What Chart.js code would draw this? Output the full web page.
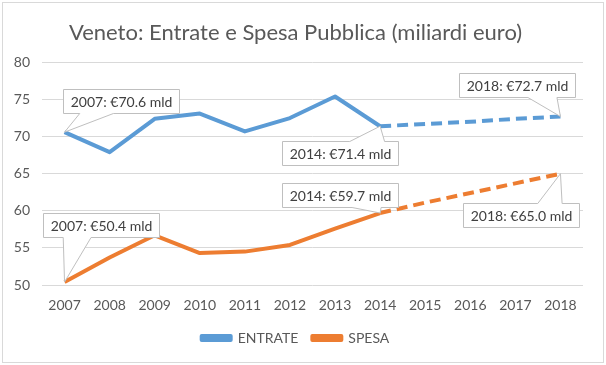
<!DOCTYPE html>
<html>
<head>
<meta charset="utf-8">
<script src="https://cdn.jsdelivr.net/npm/chart.js@4"></script>
<style>
    body { margin: 0; background: #fff; }
</style>
</head>
<body>
<canvas id="myChart" width="606" height="365"></canvas>
<script>
const years = ['2007', '2008', '2009', '2010', '2011', '2012', '2013', '2014', '2015', '2016', '2017', '2018'];
const entrate = [70.6, 67.9, 72.4, 73.1, 70.7, 72.5, 75.4, 71.4, 71.7, 72.0, 72.4, 72.7];
const spesa = [50.4, 53.7, 56.7, 54.3, 54.5, 55.4, 57.6, 59.7, 61.1, 62.4, 63.7, 65.0];
const yTicks = [50, 55, 60, 65, 70, 75, 80];
const forecastFrom = 7; // dal 2014 in poi la linea e' tratteggiata (stima)

const fontFamily = 'Lato, "Open Sans", sans-serif';
const textColor = '#595959';

// etichette a fumetto: dataset, indice, spostamento del box rispetto al punto, lato della punta
const callouts = [
    { ds: 0, i: 0, dx: -2, dy: -43, base: [0.14, 0.43] },
    { ds: 0, i: 7, dx: -98, dy: 15, base: [0.58, 0.88] },
    { ds: 0, i: 11, dx: -101, dy: -44, base: [0.59, 0.84] },
    { ds: 1, i: 0, dx: -22, dy: -69, base: [0.17, 0.41] },
    { ds: 1, i: 7, dx: -98, dy: -30, base: [0.6, 0.85] },
    { ds: 1, i: 11, dx: -97, dy: 29, base: [0.64, 0.85] }
];

const calloutPlugin = {
    id: 'callouts',
    beforeDraw(chart) {
        const ctx = chart.ctx;
        ctx.save();
        ctx.fillStyle = '#fff';
        ctx.fillRect(0, 0, chart.width, chart.height);
        ctx.strokeStyle = '#D9D9D9';
        ctx.lineWidth = 1;
        ctx.strokeRect(2.5, 2.5, chart.width - 5, chart.height - 5);
        ctx.restore();
    },
    afterDatasetsDraw(chart) {
        const ctx = chart.ctx;
        ctx.save();
        ctx.font = '14px ' + fontFamily;
        callouts.forEach(c => {
            const pt = chart.getDatasetMeta(c.ds).data[c.i];
            const value = chart.data.datasets[c.ds].data[c.i];
            const text = years[c.i] + ': €' + value.toFixed(1) + ' mld';
            const w = Math.round(ctx.measureText(text).width + 14);
            const h = 24;
            const x = Math.round(pt.x + c.dx) + 0.5;
            const y = Math.round(pt.y + c.dy) + 0.5;
            const b1 = x + w * c.base[0];
            const b2 = x + w * c.base[1];

            ctx.beginPath();
            if (pt.y > y + h) {
                ctx.moveTo(x, y);
                ctx.lineTo(x + w, y);
                ctx.lineTo(x + w, y + h);
                ctx.lineTo(b2, y + h);
                ctx.lineTo(pt.x, pt.y);
                ctx.lineTo(b1, y + h);
                ctx.lineTo(x, y + h);
            } else {
                ctx.moveTo(x, y + h);
                ctx.lineTo(x, y);
                ctx.lineTo(b1, y);
                ctx.lineTo(pt.x, pt.y);
                ctx.lineTo(b2, y);
                ctx.lineTo(x + w, y);
                ctx.lineTo(x + w, y + h);
            }
            ctx.closePath();
            ctx.fillStyle = '#fff';
            ctx.fill();
            ctx.strokeStyle = '#BFBFBF';
            ctx.lineWidth = 1;
            ctx.stroke();

            ctx.fillStyle = '#404040';
            ctx.textAlign = 'center';
            ctx.textBaseline = 'middle';
            ctx.fillText(text, x + w / 2, y + h / 2 + 1);
        });
        ctx.restore();
    }
};

function dashed(ctx) {
    return ctx.p0DataIndex >= forecastFrom ? [11, 6] : undefined;
}

const ctxChart = document.getElementById('myChart').getContext('2d');
new Chart(ctxChart, {
    type: 'line',
    data: {
        labels: years,
        datasets: [{
            label: 'ENTRATE',
            data: entrate,
            borderColor: '#5B9BD5',
            backgroundColor: '#5B9BD5',
            borderWidth: 4,
            pointRadius: 0,
            tension: 0,
            borderJoinStyle: 'round',
            segment: { borderDash: dashed }
        }, {
            label: 'SPESA',
            data: spesa,
            borderColor: '#ED7D31',
            backgroundColor: '#ED7D31',
            borderWidth: 4,
            pointRadius: 0,
            tension: 0,
            borderJoinStyle: 'round',
            segment: { borderDash: dashed }
        }]
    },
    options: {
        responsive: false,
        animation: false,
        layout: { padding: { left: 8, right: 23, top: 0, bottom: 10 } },
        plugins: {
            title: {
                display: true,
                text: 'Veneto: Entrate e Spesa Pubblica (miliardi euro)',
                color: textColor,
                font: { family: fontFamily, size: 22, weight: 'normal' },
                padding: { top: 20, bottom: 16 }
            },
            legend: {
                position: 'bottom',
                labels: {
                    color: textColor,
                    font: { family: fontFamily, size: 14 },
                    boxWidth: 29,
                    boxHeight: 4,
                    padding: 14
                }
            },
            tooltip: { enabled: false }
        },
        scales: {
            x: {
                offset: true,
                grid: { display: false },
                border: { display: false },
                ticks: { color: textColor, font: { family: fontFamily, size: 14 }, padding: 4, maxRotation: 0 },
                afterFit(scale) { scale.height = 32; }
            },
            y: {
                min: 50,
                max: 80,
                afterBuildTicks(scale) { scale.ticks = yTicks.map(v => ({ value: v })); },
                grid: { color: '#D9D9D9', drawTicks: false },
                border: { display: false },
                ticks: { color: textColor, font: { family: fontFamily, size: 14 }, padding: 12 },
                afterFit(scale) { scale.width = 34; }
            }
        }
    },
    plugins: [calloutPlugin]
});
</script>
</body>
</html>
